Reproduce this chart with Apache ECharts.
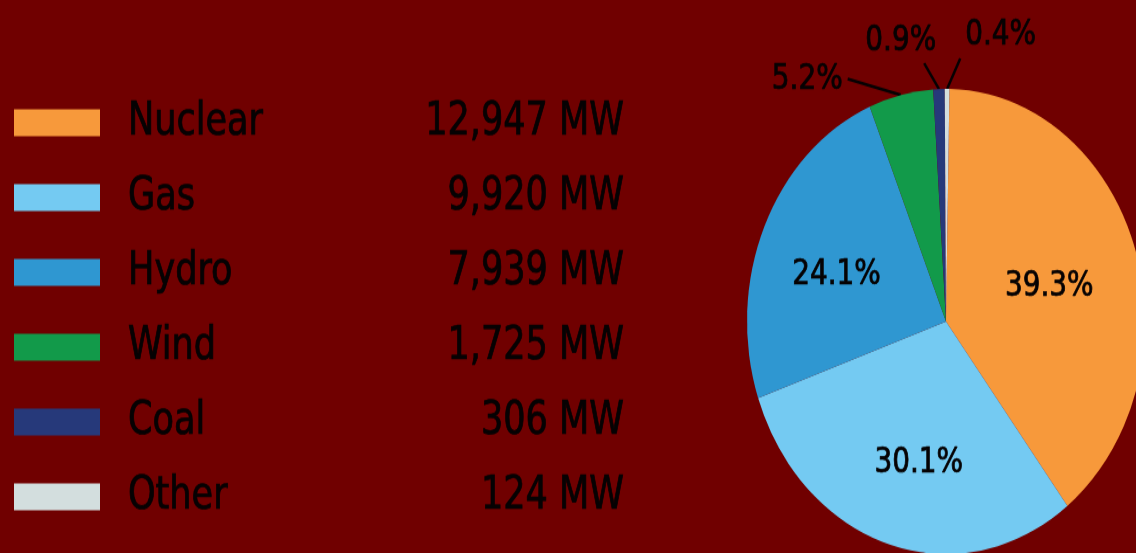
<!DOCTYPE html>
<html>
<head>
<meta charset="utf-8">
<script src="https://cdn.jsdelivr.net/npm/echarts@6/dist/echarts.min.js"></script>
<style>
  html { overflow: hidden; background: #700000; }
  body { margin: 0; padding: 0; width: 1136px; height: 553px; }
  /* the source picture is stretched vertically, so the whole chart is too */
  #chart { width: 1136px; height: 473px; transform: scaleY(1.169); transform-origin: 0 0; }
</style>
</head>
<body>
<div id="chart"></div>
<script>
const sources = ['Nuclear', 'Gas', 'Hydro', 'Wind', 'Coal', 'Other']
const capacityMW = [12947, 9920, 7939, 1725, 306, 124]
const colors = ['#f7993b', '#74caf2', '#2f97d1', '#129a4a', '#26397a', '#d3dede']

const font = "'Liberation Sans Narrow', 'DejaVu Sans Condensed', sans-serif"
const ink = '#050203'

// big slices get the label inside, small ones outside with a leader line
const labelOpts = {
  Nuclear: { label: { position: 'inside' } },
  Gas: { label: { position: 'inside' } },
  Hydro: { label: { position: 'inside' } },
  Wind: { labelLine: { length: 14, length2: 50 } },
  Coal: { labelLine: { length: 22, length2: 14 } },
  Other: { labelLine: { length: 26, length2: 13 } }
}
// small nudges of the label text (px)
const labelShift = {
  Nuclear: [6, 2],
  Gas: [2, 23],
  Hydro: [-16, 2],
  Coal: [17, -19],
  Other: [0, -20]
}

const chart = echarts.init(document.getElementById('chart'))

const pieData = sources.map((name, i) => {
  return Object.assign({ name: name, value: capacityMW[i], itemStyle: { color: colors[i] } }, labelOpts[name])
})

const textBase = { fontFamily: font, color: ink, textBorderColor: ink, textBorderWidth: 0.7 }

chart.setOption({
  backgroundColor: '#700000',
  animation: false,
  legend: {
    orient: 'vertical',
    left: 9,
    top: 77,
    itemWidth: 86,
    itemHeight: 23,
    itemGap: 18,
    selectedMode: false,
    icon: 'rect',
    data: sources,
    formatter: name => {
      const i = sources.indexOf(name)
      return '{n|' + name + '}{v|' + capacityMW[i].toLocaleString('en-US') + ' MW}'
    },
    textStyle: {
      lineHeight: 46,
      rich: {
        n: Object.assign({ width: 175, padding: [0, 0, 0, 23], fontSize: 39, lineHeight: 46 }, textBase),
        v: Object.assign({ width: 321, align: 'right', fontSize: 39, lineHeight: 46 }, textBase)
      }
    }
  },
  series: [
    {
      type: 'pie',
      center: [946, 275],
      radius: 199,
      startAngle: 89,
      clockwise: true,
      percentPrecision: 1,
      avoidLabelOverlap: false,
      legendHoverLink: false,
      label: Object.assign({ formatter: '{d}%', fontSize: 31 }, textBase),
      labelLine: {
        lineStyle: { color: ink, width: 2.5 }
      },
      labelLayout: params => {
        const name = sources[params.dataIndex]
        const shift = labelShift[name] || [0, 0]
        let res = { dx: shift[0], dy: shift[1] }
        // straight leader lines, no elbow
        const p = params.labelLinePoints
        if (p && p.length === 3) {
          res.labelLinePoints = [p[0], p[2], p[2]]
        }
        return res
      },
      itemStyle: { borderWidth: 0 },
      data: pieData
    }
  ]
})
</script>
</body>
</html>
